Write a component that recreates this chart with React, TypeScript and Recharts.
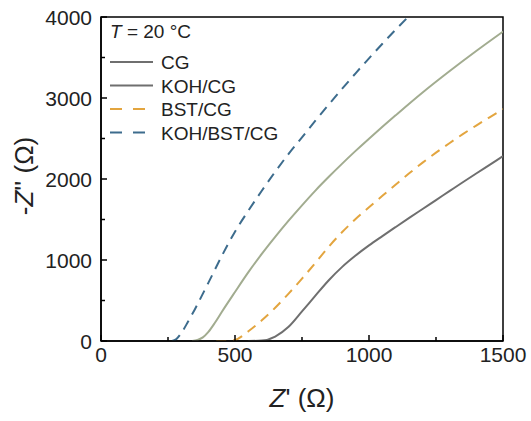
import { Line, LineChart, ReferenceArea, XAxis, YAxis } from "recharts";

// Z' (Ω) and -Z'' (Ω), one pair of arrays per sample
const cgRe = [550, 600, 650, 700, 750, 800, 850, 900, 950, 1000, 1050, 1100, 1150, 1200, 1250, 1300, 1350, 1400, 1450, 1500];
const cgIm = [0, 5, 55, 175, 365, 560, 750, 915, 1055, 1180, 1295, 1408, 1520, 1630, 1740, 1850, 1960, 2068, 2175, 2282];

const kohRe = [340, 360, 380, 400, 425, 450, 500, 550, 600, 650, 700, 750, 800, 850, 900, 950, 1000, 1050, 1100, 1200, 1300, 1400, 1500];
const kohIm = [0, 12, 45, 110, 225, 355, 605, 850, 1075, 1285, 1485, 1675, 1857, 2027, 2190, 2347, 2498, 2645, 2788, 3068, 3330, 3580, 3820];

const bstRe = [430, 480, 500, 550, 600, 650, 700, 750, 800, 850, 900, 950, 1000, 1050, 1100, 1150, 1200, 1250, 1300, 1350, 1400, 1450, 1500];
const bstIm = [0, 0, 12, 120, 255, 410, 585, 770, 965, 1165, 1345, 1505, 1650, 1792, 1932, 2070, 2202, 2325, 2442, 2553, 2660, 2762, 2862];

const kbRe = [265, 280, 300, 325, 350, 400, 450, 500, 550, 600, 650, 700, 750, 800, 850, 900, 950, 1000, 1050, 1100, 1150];
const kbIm = [0, 20, 100, 240, 390, 715, 1045, 1350, 1610, 1855, 2090, 2310, 2515, 2720, 2920, 3115, 3305, 3490, 3670, 3845, 4015];

const xTicks = [0, 250, 500, 750, 1000, 1250, 1500];
const yTicks = [0, 500, 1000, 1500, 2000, 2500, 3000, 3500, 4000];

const legendRows = [
  { name: "CG", color: "#6f6f6f", dash: undefined },
  { name: "KOH/CG", color: "#6f6f6f", dash: undefined },
  { name: "BST/CG", color: "#e3a53f", dash: "12 11" },
  { name: "KOH/BST/CG", color: "#3d6c8d", dash: "12 11" },
];

const toPoints = (re: number[], im: number[]) =>
  re.map((x, i) => ({ x, y: im[i] }));

const FONT = "Liberation Sans, Arial, sans-serif";

const XTick = (props: any) => {
  const { x, y, payload } = props;
  const major = payload.value % 500 === 0;
  return (
    <g>
      <line x1={x} x2={x} y1={y} y2={y - (major ? 6 : 4)} stroke="#000" strokeWidth={1.5} />
      {major && (
        <text x={x} y={y + 21} textAnchor="middle" fontSize={21} fontFamily={FONT} fill="#222">
          {payload.value}
        </text>
      )}
    </g>
  );
};

const YTick = (props: any) => {
  const { x, y, payload } = props;
  const major = payload.value % 1000 === 0;
  return (
    <g>
      <line x1={x} x2={x + (major ? 6 : 4)} y1={y} y2={y} stroke="#000" strokeWidth={1.5} />
      {major && (
        <text x={x - 9} y={y + 7.5} textAnchor="end" fontSize={21} fontFamily={FONT} fill="#222">
          {payload.value}
        </text>
      )}
    </g>
  );
};

const LegendBox = () => (
  <svg width={170} height={140} style={{ overflow: "visible", display: "block" }}>
    <text x={0} y={17} fontSize={19} fontFamily={FONT} fill="#222">
      <tspan fontStyle="italic">T</tspan> = 20 °C
    </text>
    {legendRows.map((row, i) => (
      <g key={row.name}>
        <line
          x1={0}
          x2={43}
          y1={41 + i * 23.5}
          y2={41 + i * 23.5}
          stroke={row.color}
          strokeWidth={2}
          strokeDasharray={row.dash}
        />
        <text x={51} y={48 + i * 23.5} fontSize={19} fontFamily={FONT} fill="#222">
          {row.name}
        </text>
      </g>
    ))}
  </svg>
);

export default function App() {
  return (
    <div style={{ position: "absolute", left: 0, top: 0, width: 531, height: 421, background: "#fff" }}>
      <LineChart width={531} height={421} margin={{ top: 17, right: 28, bottom: 0, left: 0 }}>
        <XAxis
          type="number"
          dataKey="x"
          domain={[0, 1500]}
          ticks={xTicks}
          interval={0}
          allowDataOverflow
          height={80}
          tickSize={0}
          tickMargin={0}
          tick={<XTick />}
          axisLine={{ stroke: "#000", strokeWidth: 1.5 }}
          label={{
            content: () => (
              <text x={302} y={407} textAnchor="middle" fontSize={26} fontFamily={FONT} fill="#222">
                <tspan fontStyle="italic">Z</tspan>' (Ω)
              </text>
            ),
          }}
        />
        <YAxis
          type="number"
          dataKey="y"
          domain={[0, 4000]}
          ticks={yTicks}
          interval={0}
          allowDataOverflow
          width={101}
          tickSize={0}
          tickMargin={0}
          tick={<YTick />}
          axisLine={{ stroke: "#000", strokeWidth: 1.5 }}
          label={{
            content: () => (
              <text
                x={33}
                y={176}
                transform="rotate(-90 33 176)"
                textAnchor="middle"
                fontSize={26}
                fontFamily={FONT}
                fill="#222"
              >
                -<tspan fontStyle="italic">Z</tspan>'' (Ω)
              </text>
            ),
          }}
        />
        <ReferenceArea x1={0} x2={1500} y1={0} y2={4000} fill="none" stroke="#000" strokeWidth={1.5} />
        <Line
          data={toPoints(cgRe, cgIm)}
          dataKey="y"
          type="monotone"
          stroke="#6f6f6f"
          strokeWidth={2}
          dot={false}
          isAnimationActive={false}
        />
        <Line
          data={toPoints(kohRe, kohIm)}
          dataKey="y"
          type="monotone"
          stroke="#a2ac90"
          strokeWidth={2}
          dot={false}
          isAnimationActive={false}
        />
        <Line
          data={toPoints(bstRe, bstIm)}
          dataKey="y"
          type="monotone"
          stroke="#e3a53f"
          strokeWidth={2}
          strokeDasharray="10 7"
          dot={false}
          isAnimationActive={false}
        />
        <Line
          data={toPoints(kbRe, kbIm)}
          dataKey="y"
          type="monotone"
          stroke="#3d6c8d"
          strokeWidth={2}
          strokeDasharray="10 7"
          dot={false}
          isAnimationActive={false}
        />
      </LineChart>
      <div style={{ position: "absolute", left: 110, top: 21 }}>
        <LegendBox />
      </div>
    </div>
  );
}
